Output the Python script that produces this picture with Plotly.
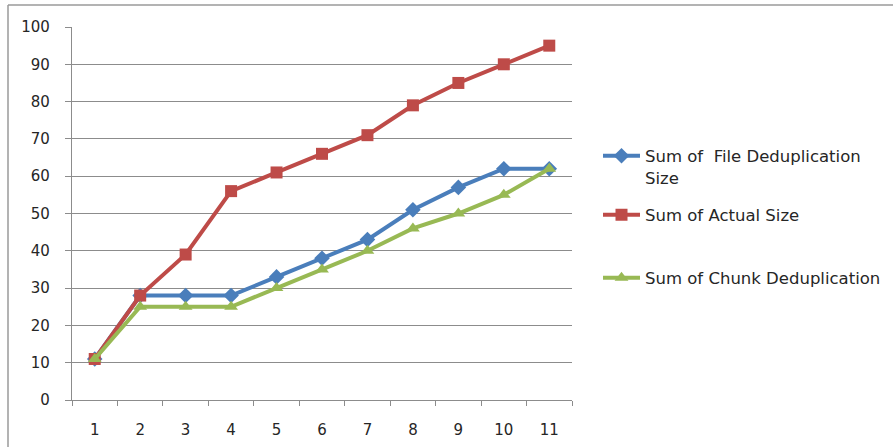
import plotly.graph_objects as go

# Cumulative sizes per step
steps = ["1", "2", "3", "4", "5", "6", "7", "8", "9", "10", "11"]
file_dedup = [11, 28, 28, 28, 33, 38, 43, 51, 57, 62, 62]
actual_size = [11, 28, 39, 56, 61, 66, 71, 79, 85, 90, 95]
chunk_dedup = [11, 25, 25, 25, 30, 35, 40, 46, 50, 55, 62]
y_ticks = [0, 10, 20, 30, 40, 50, 60, 70, 80, 90, 100]

BLUE = "#4A7EBB"
RED = "#BE4B48"
GREEN = "#98B954"
GRID = "#8C8C8C"
TEXT = "#262626"

fig = go.Figure()

fig.add_trace(go.Scatter(
    x=steps, y=file_dedup, mode="lines+markers",
    name="\u00a0<br>Sum of  File Deduplication<br>Size",
    line=dict(color=BLUE, width=4),
    marker=dict(symbol="diamond", size=12, color=BLUE),
    legend="legend",
))
fig.add_trace(go.Scatter(
    x=steps, y=actual_size, mode="lines+markers",
    name="Sum of Actual Size",
    line=dict(color=RED, width=4),
    marker=dict(symbol="square", size=12, color=RED),
    legend="legend2",
))
fig.add_trace(go.Scatter(
    x=steps, y=chunk_dedup, mode="lines+markers",
    name="Sum of Chunk Deduplication",
    line=dict(color=GREEN, width=4),
    marker=dict(symbol="triangle-up", size=12, color=GREEN),
    legend="legend3",
))

# plot area spans x 72..572 px, y 27..400 px
W, H = 893, 447
L, R, T, B = 72, 572, 27, 400


def px_x(px):
    return (px - L) / (R - L)


def px_y(py):
    return (B - py) / (B - T)


legend_font = dict(family="DejaVu Sans, Verdana, sans-serif", size=16.5, color=TEXT)
leg_common = dict(
    xanchor="left", yanchor="middle", bgcolor="rgba(0,0,0,0)",
    borderwidth=0, font=legend_font, itemwidth=37,
    tracegroupgap=0,
)

fig.update_layout(
    width=W, height=H,
    margin=dict(l=L, r=W - R, t=T, b=H - B, pad=0, autoexpand=False),
    paper_bgcolor="white", plot_bgcolor="white",
    showlegend=True,
    legend=dict(x=px_x(598), y=px_y(156), **leg_common),
    legend2=dict(x=px_x(598), y=px_y(215), **leg_common),
    legend3=dict(x=px_x(598), y=px_y(278), **leg_common),
    xaxis=dict(
        type="category", range=[-0.5, 10.5], automargin=False,
        showline=True, linecolor=GRID, linewidth=1.3,
        ticks="outside", ticklen=5, tickcolor=GRID, tickwidth=1.3,
        tickson="boundaries", showgrid=False, zeroline=False,
        tickfont=dict(family="DejaVu Sans, Verdana, sans-serif", size=15, color=TEXT),
        ticklabelstandoff=16,
    ),
    yaxis=dict(
        range=[0, 100], tickvals=y_ticks, automargin=False,
        showline=True, linecolor=GRID, linewidth=1.3,
        ticks="outside", ticklen=6, tickcolor=GRID, tickwidth=1.3,
        showgrid=True, gridcolor=GRID, gridwidth=1.2, zeroline=False,
        tickfont=dict(family="DejaVu Sans, Verdana, sans-serif", size=15, color=TEXT),
        ticklabelstandoff=12,
    ),
    shapes=[
        # chart frame: left and top edges
        dict(type="line", xref="paper", yref="paper",
             x0=px_x(8), x1=px_x(8), y0=px_y(H + 5), y1=px_y(5),
             line=dict(color="#9A9A9A", width=1.5)),
        dict(type="line", xref="paper", yref="paper",
             x0=px_x(8), x1=px_x(W + 5), y0=px_y(5), y1=px_y(5),
             line=dict(color="#9A9A9A", width=1.5)),
    ],
)

fig.write_html("out.html")
